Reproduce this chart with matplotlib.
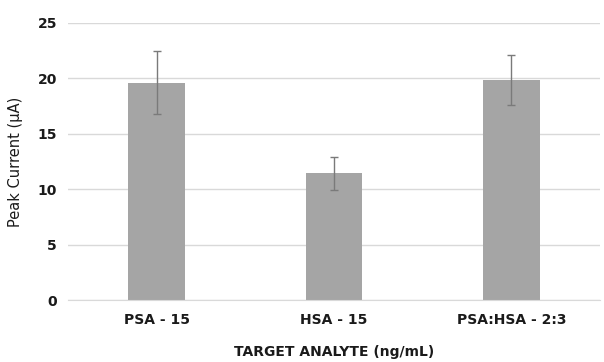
import numpy as np
import matplotlib.pyplot as plt

categories = ['PSA - 15', 'HSA - 15', 'PSA:HSA - 2:3']
current = [19.6, 11.45, 19.85]
error = [2.85, 1.5, 2.25]

plt.rcParams['font.family'] = ['DejaVu Sans']

fig = plt.figure(figsize=(6.04, 3.62), dpi=100)
ax = fig.add_axes([68 / 604, 62 / 362, 532 / 604, 277 / 362])

x = np.arange(len(categories))
ax.bar(x, current, width=0.32, color='#a5a5a5', zorder=2)
ax.errorbar(x, current, yerr=error, fmt='none', ecolor='#7a7a7a',
            elinewidth=1, capsize=3, capthick=1, zorder=3)

ax.set_xlim(-0.5, 2.5)
ax.set_ylim(0, 25)
ax.set_yticks(range(0, 26, 5))
ax.set_xticks(x)
ax.set_xticklabels(categories, fontsize=10, fontweight='bold', color='#1a1a1a')
for lbl in ax.get_yticklabels():
    lbl.set_fontsize(10)
    lbl.set_fontweight('bold')
    lbl.set_color('#1a1a1a')

ax.yaxis.grid(True, color='#d9d9d9', linewidth=1, zorder=0)
for side in ['top', 'right', 'left']:
    ax.spines[side].set_visible(False)
ax.spines['bottom'].set_color('#d9d9d9')
ax.tick_params(length=0)
ax.tick_params(axis='y', pad=8)
ax.tick_params(axis='x', pad=9)

ax.set_ylabel('Peak Current (µA)', fontsize=10.5, color='#1a1a1a', labelpad=10)
ax.set_xlabel('TARGET ANALYTE (ng/mL)', fontsize=10, fontweight='bold',
              color='#1a1a1a', labelpad=13)

fig.savefig('out.png', dpi=100)
